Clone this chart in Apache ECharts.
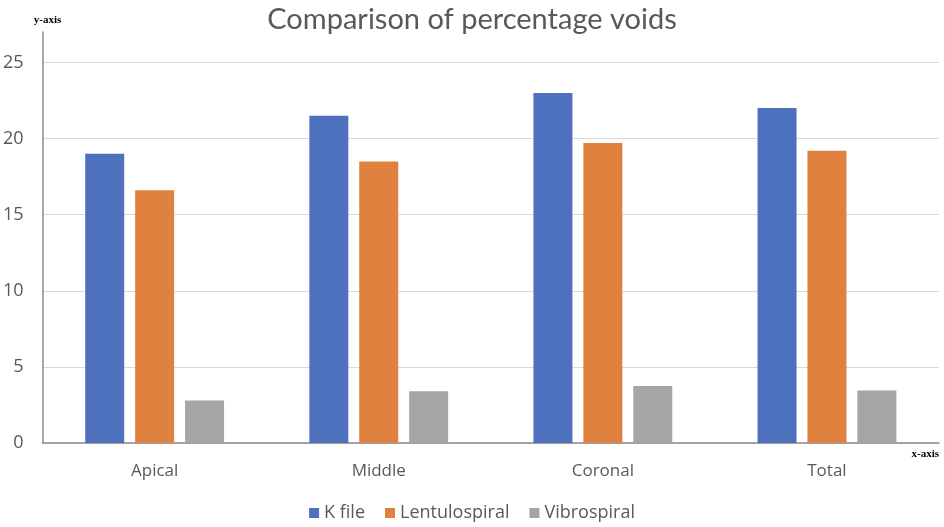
<!DOCTYPE html>
<html>
<head>
<meta charset="utf-8">
<title>Comparison of percentage voids</title>
<script src="https://cdn.jsdelivr.net/npm/echarts@6/dist/echarts.min.js"></script>
<style>
  html, body { margin: 0; padding: 0; background: #fff; }
  #chart { width: 944px; height: 527px; }
</style>
</head>
<body>
<div id="chart"></div>
<script type="text/javascript">
    // data
    var categories = ['Apical', 'Middle', 'Coronal', 'Total'];
    var kFile = [19.0, 21.5, 23.0, 22.0];
    var lentulospiral = [16.6, 18.5, 19.7, 19.2];
    var vibrospiral = [2.8, 3.4, 3.75, 3.45];
    var seriesNames = ['K file', 'Lentulospiral', 'Vibrospiral'];

    var textColor = '#595959';
    var labelFont = 'Open Sans';

    var myChart = echarts.init(document.getElementById('chart'));

    function barSeries(name, data) {
        return {
            name: name,
            type: 'bar',
            data: data,
            barWidth: 39,
            barGap: '28%'
        };
    }

    var option = {
        color: ['#4e71be', '#e0823f', '#a5a5a5'],
        animation: false,
        title: {
            text: 'Comparison of percentage voids',
            left: 'center',
            top: 0,
            textStyle: {
                color: textColor,
                fontFamily: 'Lato',
                fontWeight: 'normal',
                fontSize: 29
            }
        },
        legend: {
            data: seriesNames,
            bottom: 0,
            left: 'center',
            itemWidth: 10,
            itemHeight: 10,
            itemGap: 20,
            icon: 'rect',
            textStyle: {
                color: textColor,
                fontFamily: labelFont,
                fontSize: 18
            }
        },
        grid: {
            left: 42,
            right: 5,
            top: 32,
            bottom: 84
        },
        xAxis: {
            type: 'category',
            data: categories,
            name: 'x-axis',
            nameLocation: 'end',
            nameGap: 0,
            nameTextStyle: {
                color: '#000',
                fontFamily: 'Liberation Serif',
                fontWeight: 'bold',
                fontSize: 11,
                align: 'right',
                verticalAlign: 'top',
                padding: [6, 0, 0, 0]
            },
            axisLine: { lineStyle: { color: '#8c8c8c', width: 1.5 } },
            axisTick: { show: false },
            axisLabel: {
                color: textColor,
                fontFamily: labelFont,
                fontSize: 17,
                margin: 20
            }
        },
        yAxis: {
            type: 'value',
            min: 0,
            max: 27,
            interval: 5,
            name: 'y-axis',
            nameLocation: 'end',
            nameGap: 6,
            nameTextStyle: {
                color: '#000',
                fontFamily: 'Liberation Serif',
                fontWeight: 'bold',
                fontSize: 11,
                padding: [0, 0, 0, 10]
            },
            axisLine: { show: true, lineStyle: { color: '#8c8c8c', width: 1.5 } },
            axisTick: { show: false },
            axisLabel: {
                color: textColor,
                fontFamily: labelFont,
                fontSize: 18,
                margin: 19,
                showMaxLabel: false
            },
            splitLine: {
                show: true,
                showMaxLine: false,
                lineStyle: { color: '#d9d9d9', width: 1 }
            }
        },
        series: [
            barSeries(seriesNames[0], kFile),
            barSeries(seriesNames[1], lentulospiral),
            barSeries(seriesNames[2], vibrospiral)
        ]
    };

    myChart.setOption(option);
</script>
</body>
</html>
